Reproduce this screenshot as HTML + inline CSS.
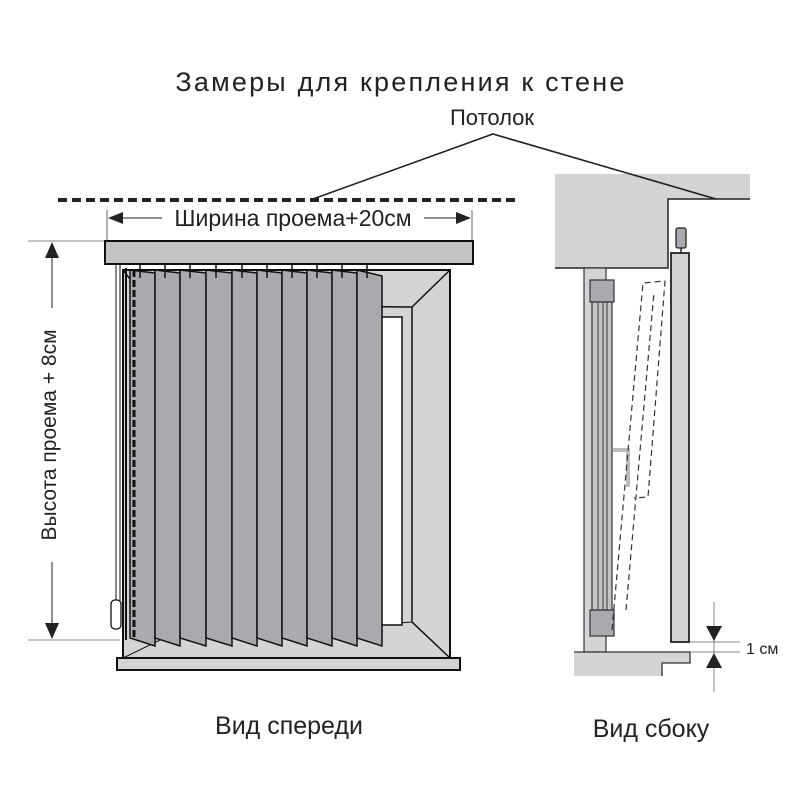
<!DOCTYPE html>
<html><head><meta charset="utf-8"><style>
html,body{margin:0;padding:0;background:#fff;}
svg{display:block;font-family:"Liberation Sans",sans-serif;}
</style></head><body>
<svg width="800" height="800" viewBox="0 0 800 800" xmlns="http://www.w3.org/2000/svg">
<rect width="800" height="800" fill="#fff"/>
<text x="401" y="91" font-size="27" text-anchor="middle" letter-spacing="2.2" fill="#222">Замеры для крепления к стене</text>
<text x="492" y="125" font-size="22" text-anchor="middle" fill="#222">Потолок</text>
<line x1="58" y1="200" x2="518" y2="200" stroke="#222" stroke-width="4" stroke-dasharray="9,5"/>

<!-- width dim -->
<line x1="107" y1="210" x2="107" y2="240" stroke="#666" stroke-width="1"/>
<line x1="472" y1="210" x2="472" y2="240" stroke="#666" stroke-width="1"/>
<line x1="110" y1="218" x2="470" y2="218" stroke="#222" stroke-width="1"/>
<rect x="162" y="206" width="262" height="24" fill="#fff"/>
<polygon points="108,218 123,212 123,224" fill="#222"/>
<polygon points="471,218 456,212 456,224" fill="#222"/>
<text x="293" y="226" font-size="23" text-anchor="middle" fill="#222">Ширина проема+20см</text>

<!-- height dim -->
<line x1="28" y1="241" x2="107" y2="241" stroke="#888" stroke-width="1"/>
<line x1="28" y1="640" x2="120" y2="640" stroke="#888" stroke-width="1"/>
<line x1="52" y1="245" x2="52" y2="636" stroke="#222" stroke-width="1"/>
<rect x="38" y="308" width="26" height="254" fill="#fff"/>
<polygon points="52,242 45,258 59,258" fill="#222"/>
<polygon points="52,639 45,623 59,623" fill="#222"/>
<text transform="translate(56,435) rotate(-90)" font-size="21" text-anchor="middle" fill="#222">Высота проема + 8см</text>

<!-- window -->
<rect x="123" y="270" width="327" height="388" fill="#d4d4d6" stroke="#111" stroke-width="2"/>
<polyline points="123,270 150,305 412,307 450,270" fill="none" stroke="#111" stroke-width="1.5"/>
<polyline points="412,307 412,622 450,658" fill="none" stroke="#111" stroke-width="1.5"/>
<polyline points="123,658 160,640 412,622" fill="none" stroke="#111" stroke-width="1"/>
<rect x="380" y="317" width="22" height="308" fill="#fff" stroke="#111" stroke-width="1.5"/>
<rect x="117" y="658" width="343" height="12" fill="#d4d4d6" stroke="#111" stroke-width="2"/>
<!-- headrail -->
<rect x="105" y="241" width="368" height="23" fill="#c4c4c6" stroke="#111" stroke-width="2"/>
<!-- cord -->
<line x1="116" y1="264" x2="116" y2="602" stroke="#111" stroke-width="1"/>
<line x1="120" y1="264" x2="120" y2="602" stroke="#111" stroke-width="1"/>
<rect x="111" y="600" width="10" height="29" rx="4" fill="#fff" stroke="#111" stroke-width="1.3"/>
<!-- slats -->
<g fill="#a9aaad" stroke="#111" stroke-width="1.5">
<polygon points="130,270 155,273 155,646 130,638"/>
<polygon points="155,270 180,273 180,646 155,638"/>
<polygon points="180,270 206,273 206,646 180,638"/>
<polygon points="206,270 232,273 232,646 206,638"/>
<polygon points="232,270 257,273 257,646 232,638"/>
<polygon points="257,270 282,273 282,646 257,638"/>
<polygon points="282,270 307,273 307,646 282,638"/>
<polygon points="307,270 332,273 332,646 307,638"/>
<polygon points="332,270 357,273 357,646 332,638"/>
<polygon points="357,270 382,276 382,646 357,638"/>
</g>
<g stroke="#111" stroke-width="1.5">
<line x1="140" y1="264" x2="140" y2="278"/><line x1="165" y1="264" x2="165" y2="278"/>
<line x1="190" y1="264" x2="190" y2="278"/><line x1="216" y1="264" x2="216" y2="278"/>
<line x1="242" y1="264" x2="242" y2="278"/><line x1="267" y1="264" x2="267" y2="278"/>
<line x1="292" y1="264" x2="292" y2="278"/><line x1="317" y1="264" x2="317" y2="278"/>
<line x1="342" y1="264" x2="342" y2="278"/><line x1="367" y1="264" x2="367" y2="278"/>
</g>
<line x1="126" y1="268" x2="126" y2="640" stroke="#111" stroke-width="2"/>
<line x1="134" y1="270" x2="134" y2="640" stroke="#111" stroke-width="3" stroke-dasharray="7,3"/>

<text x="289" y="734" font-size="25" text-anchor="middle" fill="#222">Вид спереди</text>

<!-- side view -->
<polygon points="555,174 750,174 750,199 668,199 668,268 555,268" fill="#d4d4d6"/>
<polyline points="750,199 668,199 668,268 555,268" fill="none" stroke="#222" stroke-width="1.5"/>
<rect x="584" y="268" width="22" height="384" fill="#d4d4d6" stroke="#333" stroke-width="1.2"/>
<rect x="590" y="280" width="24" height="22" fill="#a9aaad" stroke="#333" stroke-width="1.2"/>
<rect x="590" y="610" width="24" height="26" fill="#a9aaad" stroke="#333" stroke-width="1.2"/>
<rect x="592" y="302" width="20" height="308" fill="#c4c4c6" stroke="#333" stroke-width="1.2"/>
<line x1="598" y1="302" x2="598" y2="610" stroke="#333" stroke-width="1"/>
<line x1="603" y1="302" x2="603" y2="610" stroke="#333" stroke-width="1"/>
<line x1="607" y1="302" x2="607" y2="610" stroke="#333" stroke-width="1"/>
<polyline points="613,450 628,450 628,487" fill="none" stroke="#bbb" stroke-width="4"/>
<g fill="none" stroke="#333" stroke-width="1.2" stroke-dasharray="6,4">
<polyline points="612,630 643,283 665,281 648,497 634,498"/>
<line x1="626" y1="610" x2="654" y2="292"/>
</g>
<rect x="671" y="253" width="18" height="389" fill="#d4d4d6" stroke="#222" stroke-width="1.8"/>
<rect x="676" y="228" width="10" height="20" rx="2" fill="#a9aaad" stroke="#222" stroke-width="1.3"/>
<line x1="681" y1="248" x2="681" y2="253" stroke="#222" stroke-width="1.5"/>
<polygon points="574,652 690,652 690,663 662,663 662,676 574,676" fill="#d4d4d6"/>
<polyline points="574,652 690,652 690,663 662,663 662,676" fill="none" stroke="#333" stroke-width="1.3"/>
<line x1="690" y1="642" x2="740" y2="642" stroke="#888" stroke-width="1"/>
<line x1="690" y1="652" x2="740" y2="652" stroke="#888" stroke-width="1"/>
<line x1="714" y1="602" x2="714" y2="692" stroke="#888" stroke-width="1"/>
<polygon points="706,626 722,626 714,641" fill="#222"/>
<polygon points="706,668 722,668 714,653" fill="#222"/>
<text x="746" y="654" font-size="16" fill="#222">1 см</text>
<text x="651" y="737" font-size="25" text-anchor="middle" fill="#222">Вид сбоку</text>

<polyline points="313,199 493,134 716,199" fill="none" stroke="#222" stroke-width="1.6"/>
</svg>
</body></html>
